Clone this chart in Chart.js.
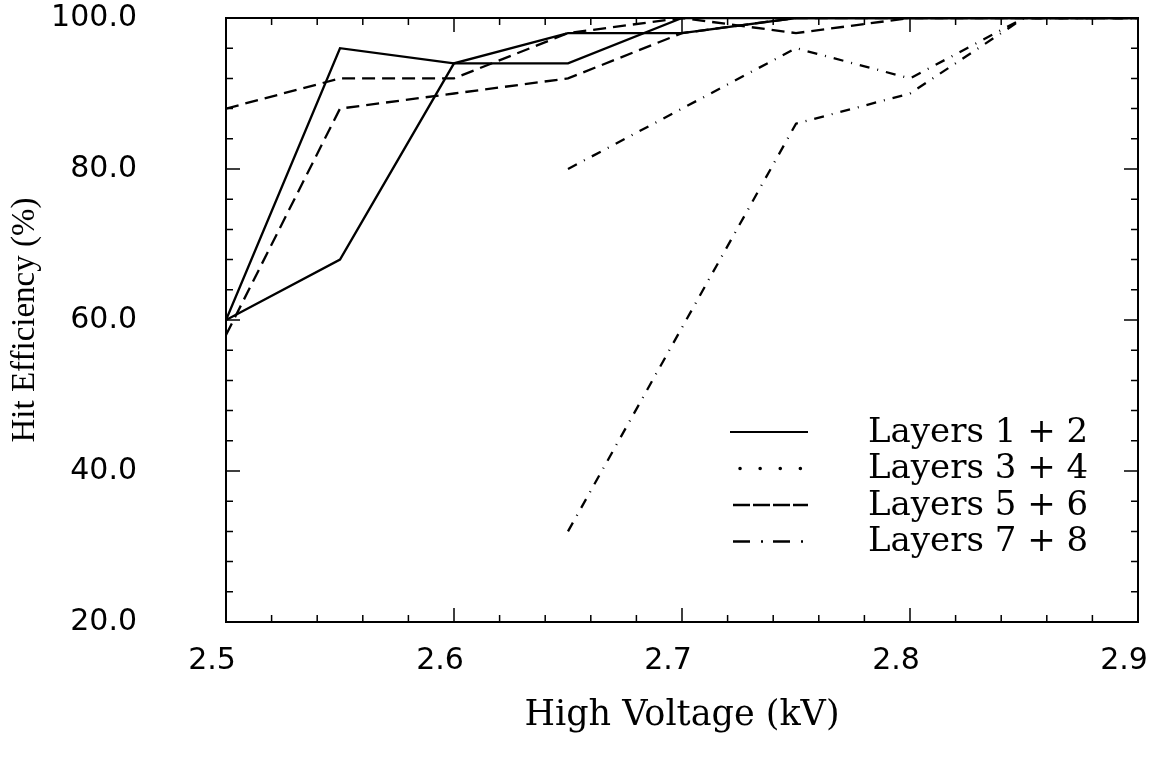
<!DOCTYPE html>
<html>
<head>
<meta charset="utf-8">
<script src="https://cdn.jsdelivr.net/npm/chart.js@4.4.1/dist/chart.umd.min.js"></script>
<style>
html,body{margin:0;padding:0;background:#fff;}
#c{display:block;}
</style>
</head>
<body>
<canvas id="c" width="1158" height="761"></canvas>
<script>
// ---- data ----
const voltages   = [2.5, 2.55, 2.6, 2.65, 2.7, 2.75, 2.8, 2.85, 2.9];
const layers12   = [60, 96, 94, 94, 100, 100, 100, 100, 100];
const layers34   = [60, 68, 94, 98, 98, 100, 100, 100, 100];
const layers56a  = [88, 92, 92, 98, 100, 98, 100, 100, 100];
const layers56b  = [58, 88, 90, 92, 98, 100, 100, 100, 100];
const layers78a  = [null, null, null, 80, 88, 96, 92, 100, 100];
const layers78b  = [null, null, null, 32, 59, 86, 90, 100, 100];

const legendLabels = ['Layers 1 + 2', 'Layers 3 + 4', 'Layers 5 + 6', 'Layers 7 + 8'];
const xMajorTicks = [2.5, 2.6, 2.7, 2.8, 2.9];
const yMajorTicks = [20, 40, 60, 80, 100];
const xMinorStep = 0.02;
const yMinorStep = 4;
const xTitle = 'High Voltage (kV)';
const yTitle = 'Hit Efficiency (%)';

// ---- helpers ----
const toPoints = arr => voltages.map((v, i) => ({x: v, y: arr[i]}));
const isMajorX = v => xMajorTicks.some(m => Math.abs(m - v) < 1e-6);
const isMajorY = v => yMajorTicks.some(m => Math.abs(m - v) < 1e-6);

const DASH = [13, 7];
const DASHDOT = [10, 8, 1, 8];

function ds(label, arr, dash) {
  return {
    label, data: toPoints(arr),
    borderColor: '#000', borderWidth: 2.3, borderDash: dash,
    pointRadius: 0, fill: false, tension: 0, spanGaps: false
  };
}

const legendStyles = [
  {dash: [], cap: 'butt', width: 2, start: 0},
  {dash: [0.1, 20], cap: 'round', width: 3.5, start: 10},
  {dash: [17, 3], cap: 'butt', width: 2.5, start: 3},
  {dash: [17, 11, 2, 10], cap: 'butt', width: 2.5, start: 3}
];

const framePlugin = {
  id: 'frameTicks',
  afterDatasetsDraw(chart) {
    const {ctx, chartArea: a, scales: {x, y}} = chart;
    ctx.save();
    ctx.setLineDash([]);
    ctx.strokeStyle = '#000';
    ctx.lineWidth = 2;
    ctx.strokeRect(a.left, a.top, a.right - a.left, a.bottom - a.top);
    ctx.lineWidth = 1.5;
    ctx.beginPath();
    x.ticks.forEach(t => {
      const px = x.getPixelForValue(t.value);
      const len = isMajorX(t.value) ? 14 : 7;
      ctx.moveTo(px, a.bottom); ctx.lineTo(px, a.bottom - len);
      ctx.moveTo(px, a.top); ctx.lineTo(px, a.top + len);
    });
    y.ticks.forEach(t => {
      const py = y.getPixelForValue(t.value);
      const len = isMajorY(t.value) ? 14 : 7;
      ctx.moveTo(a.left, py); ctx.lineTo(a.left + len, py);
      ctx.moveTo(a.right, py); ctx.lineTo(a.right - len, py);
    });
    ctx.stroke();
    ctx.restore();
  }
};

const legendPlugin = {
  id: 'insideLegend',
  afterDraw(chart) {
    const {ctx, chartArea: a} = chart;
    const x0 = a.right - 408, x1 = a.right - 330, tx = a.right - 270;
    ctx.save();
    ctx.fillStyle = '#000';
    ctx.strokeStyle = '#000';
    ctx.font = '34px "DejaVu Serif"';
    ctx.textBaseline = 'middle';
    ctx.textAlign = 'left';
    legendLabels.forEach((lab, i) => {
      const yy = a.top + 414 + i * 36.5;
      const st = legendStyles[i];
      ctx.beginPath();
      ctx.setLineDash(st.dash);
      ctx.lineCap = st.cap;
      ctx.lineWidth = st.width;
      ctx.moveTo(x0 + st.start, yy);
      ctx.lineTo(x1, yy);
      ctx.stroke();
      ctx.setLineDash([]);
      ctx.fillText(lab, tx, yy + 1);
    });
    ctx.restore();
  }
};

function stepTicks(min, max, step) {
  const out = [];
  const n = Math.round((max - min) / step);
  for (let i = 0; i <= n; i++) out.push({value: +(min + i * step).toFixed(6)});
  return out;
}

new Chart(document.getElementById('c'), {
  type: 'line',
  data: {
    datasets: [
      ds(legendLabels[0], layers12, []),
      ds(legendLabels[1], layers34, []),
      ds(legendLabels[2], layers56a, DASH),
      ds(legendLabels[2], layers56b, DASH),
      ds(legendLabels[3], layers78a, DASHDOT),
      ds(legendLabels[3], layers78b, DASHDOT)
    ]
  },
  options: {
    responsive: false,
    animation: false,
    devicePixelRatio: 1,
    layout: {padding: {top: 18, right: 20, left: 0, bottom: 0}},
    plugins: {legend: {display: false}, tooltip: {enabled: false}},
    scales: {
      x: {
        type: 'linear', min: 2.5, max: 2.9,
        afterBuildTicks: s => { s.ticks = stepTicks(2.5, 2.9, xMinorStep); },
        afterFit: s => { s.height = 139; s.paddingLeft = 0; s.paddingRight = 0; },
        grid: {display: false, drawTicks: false},
        border: {display: false},
        ticks: {
          autoSkip: false, maxRotation: 0, minRotation: 0,
          padding: 21, labelOffset: -14, color: '#000',
          font: {family: '"DejaVu Sans"', size: 30},
          callback: v => isMajorX(v) ? v.toFixed(1) : ''
        },
        title: {
          display: true, text: xTitle, color: '#000',
          font: {family: '"DejaVu Serif"', size: 35},
          padding: {top: 0, bottom: 24}
        }
      },
      y: {
        type: 'linear', min: 20, max: 100,
        afterBuildTicks: s => { s.ticks = stepTicks(20, 100, yMinorStep); },
        afterFit: s => { s.width = 226; s.paddingTop = 0; s.paddingBottom = 0; },
        grid: {display: false, drawTicks: false},
        border: {display: false},
        ticks: {
          autoSkip: false, padding: 89, color: '#000',
          font: {family: '"DejaVu Sans"', size: 30},
          callback: v => isMajorY(v) ? v.toFixed(1) : ''
        },
        title: {
          display: true, text: yTitle, color: '#000',
          font: {family: '"Liberation Serif"', size: 33},
          padding: {top: 6, bottom: 0}
        }
      }
    }
  },
  plugins: [framePlugin, legendPlugin]
});
</script>
</body>
</html>
